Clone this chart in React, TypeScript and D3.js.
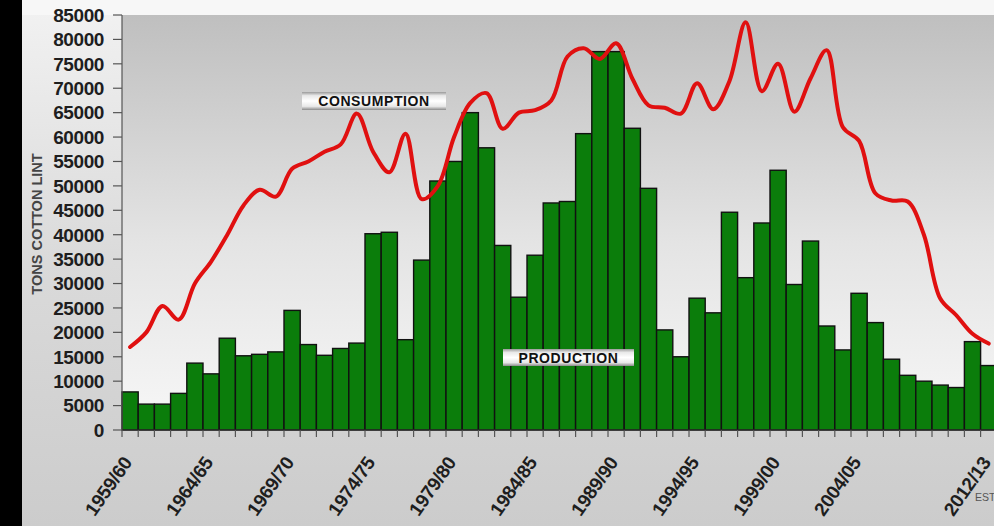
import React from "react";
import * as d3 from "d3";

const seasons: string[] = [];
for (let y = 1959; y <= 2012; y++) {
  seasons.push(`${y}/${String((y + 1) % 100).padStart(2, "0")}`);
}

const production = [
  7800, 5300, 5300, 7500, 13700, 11500, 18800, 15200, 15500, 16000,
  24500, 17500, 15300, 16700, 17800, 40200, 40500, 18500, 34800, 51000,
  55000, 65000, 57800, 37800, 27200, 35800, 46500, 46800, 60700, 77500,
  77500, 61800, 49500, 20500, 15000, 27000, 24000, 44600, 31200, 42400,
  53200, 29800, 38700, 21300, 16400, 28000, 22000, 14500, 11200, 10000,
  9200, 8700, 18100, 13200,
];

const consumption = [
  17000, 20000, 25400, 22600, 30000, 34500, 40000, 46000, 49200, 47800,
  53500, 55000, 57000, 58500, 64800, 57000, 52800, 60700, 47300, 50000,
  60000, 67000, 69000, 61700, 65000, 65500, 67500, 76500, 78200, 76000,
  79200, 72000, 66500, 66000, 64800, 71000, 65700, 71500, 83500, 69400,
  75000, 65200, 72000, 77800, 62000, 59200, 48500, 47000, 46800, 40000,
  27000, 23500, 19700, 17700,
];

const yTicks = d3.range(0, 85001, 5000);
const labeledSeasons = ["1959/60", "1964/65", "1969/70", "1974/75", "1979/80", "1984/85", "1989/90", "1994/95", "1999/00", "2004/05", "2012/13"];

const W = 994;
const H = 526;
const left = 122;
const top = 15;
const bottom = 430;
const step = 16.2;
const right = left + step * seasons.length;

export default function App() {
  const x = d3.scaleBand<string>().domain(seasons).range([left, right]).padding(0);
  const y = d3.scaleLinear().domain([0, 85000]).range([bottom, top]);
  const line = d3
    .line<number>()
    .x((_, i) => (x(seasons[i]) as number) + x.bandwidth() / 2)
    .y((d) => y(d))
    .curve(d3.curveCatmullRom.alpha(0.5));

  const font = "'Liberation Sans', Arial, sans-serif";

  return (
    <div style={{ position: "fixed", left: 0, top: 0, width: W, height: H }}>
      <svg width={W} height={H} style={{ display: "block" }}>
        <defs>
          <linearGradient id="plotBg" x1="0" y1="0" x2="0" y2="1">
            <stop offset="0" stopColor="#bfbfbf" />
            <stop offset="0.55" stopColor="#e4e4e4" />
            <stop offset="1" stopColor="#f7f7f7" />
          </linearGradient>
          <linearGradient id="pageBg" x1="0" y1="0" x2="0" y2="1">
            <stop offset="0" stopColor="#f2f2f2" />
            <stop offset="0.5" stopColor="#dadada" />
            <stop offset="1" stopColor="#cccccc" />
          </linearGradient>
          <linearGradient id="tag" x1="0" y1="0" x2="0" y2="1">
            <stop offset="0" stopColor="#9a9a9a" />
            <stop offset="0.2" stopColor="#e8e8e8" />
            <stop offset="0.5" stopColor="#ffffff" />
            <stop offset="0.8" stopColor="#e8e8e8" />
            <stop offset="1" stopColor="#8a8a8a" />
          </linearGradient>
        </defs>
        <rect x={0} y={0} width={W} height={H} fill="url(#pageBg)" />
        <rect x={0} y={0} width={W} height={top} fill="#f7f7f7" />
        <rect x={0} y={0} width={22} height={H} fill="#000" />
        <rect x={left} y={top} width={W - left} height={bottom - top} fill="url(#plotBg)" />

        {/* bars */}
        {production.map((v, i) => (
          <rect
            key={i}
            x={x(seasons[i])}
            y={y(v)}
            width={x.bandwidth()}
            height={bottom - y(v)}
            fill="#0b7d0b"
            stroke="#111"
            strokeWidth={1.4}
          />
        ))}

        {/* consumption line */}
        <path d={line(consumption) || ""} fill="none" stroke="#e01010" strokeWidth={4} strokeLinejoin="round" strokeLinecap="round" />

        {/* y axis */}
        <line x1={left} x2={left} y1={top} y2={bottom} stroke="#555" strokeWidth={1.2} />
        {yTicks.map((t) => (
          <g key={t}>
            <line x1={left - 9} x2={left} y1={y(t)} y2={y(t)} stroke="#555" strokeWidth={1.2} />
            <text
              x={104}
              y={y(t)}
              dy="0.36em"
              textAnchor="end"
              fontFamily={font}
              fontWeight="bold"
              fontSize={19}
              fill="#1e1e1e"
              style={{ letterSpacing: "-0.4px" }}
            >
              {t}
            </text>
          </g>
        ))}
        <text
          transform={`translate(42,${224}) rotate(-90)`}
          textAnchor="middle"
          fontFamily={font}
          fontWeight="bold"
          fontSize={14.5}
          fill="#444"
        >
          TONS COTTON LINT
        </text>

        {/* x axis */}
        <line x1={left} x2={W} y1={bottom} y2={bottom} stroke="#333" strokeWidth={1.2} />
        {seasons.map((s) => (
          <line
            key={s}
            x1={x(s) as number}
            x2={x(s) as number}
            y1={bottom}
            y2={bottom + 7}
            stroke="#555"
            strokeWidth={1.2}
          />
        ))}
        {labeledSeasons.map((s) => {
          const cx = (x(s) as number) + x.bandwidth() / 2;
          return (
            <text
              key={s}
              transform={`translate(${cx - 8},${455}) rotate(-55)`}
              textAnchor="end"
              dy="0.7em"
              fontFamily={font}
              fontWeight="bold"
              fontSize={19}
              fill="#1e1e1e"
              style={{ letterSpacing: "-0.3px" }}
            >
              {s}
            </text>
          );
        })}
        <text x={975} y={501} fontFamily={font} fontSize={10.5} fill="#555">
          EST
        </text>

        {/* series tags */}
        <g>
          <rect x={302} y={92} width={144} height={18} fill="url(#tag)" />
          <text x={374} y={101} dy="0.36em" textAnchor="middle" fontFamily={font} fontWeight="bold" fontSize={14} fill="#111" style={{ letterSpacing: "0.6px" }}>
            CONSUMPTION
          </text>
        </g>
        <g>
          <rect x={503} y={349} width={131} height={17} fill="url(#tag)" />
          <text x={568.5} y={357.5} dy="0.36em" textAnchor="middle" fontFamily={font} fontWeight="bold" fontSize={14} fill="#111" style={{ letterSpacing: "0.6px" }}>
            PRODUCTION
          </text>
        </g>
      </svg>
    </div>
  );
}
